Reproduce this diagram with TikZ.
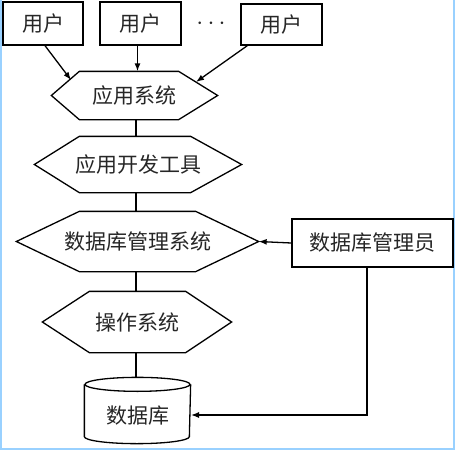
\documentclass[tikz,border=0pt]{standalone}
\usepackage{fontspec}
\setmainfont{Noto Sans CJK SC}
\usetikzlibrary{arrows.meta,calc}
\begin{document}
\begin{tikzpicture}[x=1pt,y=-1pt,
  line width=1.3pt,
  every node/.style={font=\fontsize{21}{23}\selectfont, text=black!85},
  boxnode/.style={draw, rectangle, inner sep=0pt},
  hexnode/.style={draw=none, rectangle, inner sep=0pt},
  arr/.style={-{Latex[length=8pt,width=6pt]}},
  frameline/.style={draw=blue!45!cyan!40, line width=2.5pt}]
\useasboundingbox (0,0) rectangle (455,450);
\draw[frameline] (1,-2) -- (1,449) -- (454,449) -- (454,-2);

% users
\node[boxnode, minimum width=80pt, minimum height=43pt] (u1) at (43,23.5) {用户};
\node[boxnode, minimum width=81pt, minimum height=43pt] (u2) at (140.5,23.5) {用户};
\node[font=\fontsize{24}{26}\selectfont] (dots) at (211,24) {$\cdots$};
\node[boxnode, minimum width=81pt, minimum height=41pt] (u3) at (281.5,24.5) {用户};

% hexagon 1
\node[hexnode, minimum width=165pt, minimum height=47pt] (h1) at (134.5,95.5) {应用系统};
\draw (h1.west) -- ([xshift=28pt]h1.north west) -- ([xshift=-39pt]h1.north east) -- (h1.east)
  -- ([xshift=-39pt]h1.south east) -- ([xshift=28pt]h1.south west) -- cycle;

% hexagon 2
\node[hexnode, minimum width=206pt, minimum height=55pt] (h2) at (138,164.5) {应用开发工具};
\draw (h2.west) -- ([xshift=45pt]h2.north west) -- ([xshift=-51pt]h2.north east) -- (h2.east)
  -- ([xshift=-51pt]h2.south east) -- ([xshift=45pt]h2.south west) -- cycle;

% hexagon 3
\node[hexnode, minimum width=241pt, minimum height=59pt] (h3) at (137.5,241.5) {数据库管理系统};
\draw (h3.west) -- ([xshift=63pt]h3.north west) -- ([xshift=-63pt]h3.north east) -- (h3.east)
  -- ([xshift=-63pt]h3.south east) -- ([xshift=63pt]h3.south west) -- cycle;

% hexagon 4
\node[hexnode, minimum width=188pt, minimum height=60pt] (h4) at (137,322) {操作系统};
\draw (h4.west) -- ([xshift=47pt]h4.north west) -- ([xshift=-46pt]h4.north east) -- (h4.east)
  -- ([xshift=-46pt]h4.south east) -- ([xshift=47pt]h4.south west) -- cycle;

% DBA
\node[boxnode, minimum width=161pt, minimum height=48pt] (dba) at (372.5,243) {数据库管理员};

% database cylinder
\node[hexnode, minimum width=105pt, minimum height=65pt] (db) at (137.5,410.5) {};
\node (dbt) at (137.5,416) {数据库};
\draw ([yshift=-7pt]db.north west) -- ([yshift=7pt]db.south west)
  arc[start angle=180, end angle=360, x radius=52.5pt, y radius=7pt]
  -- ([yshift=-7pt]db.north east);
\draw ($(db.north)+(0,7)$) ellipse[x radius=52.5pt, y radius=7pt];

% connectors
\coordinate (a1) at (71,80);
\coordinate (a3) at (196,82);
\coordinate (dbin) at (191,415);
\draw[arr] ([xshift=2pt]u1.south) -- (a1);
\draw[arr] ([xshift=-3pt]u2.south) -- ([xshift=-3pt]u2.south |- h1.north);
\draw[arr] ([xshift=7pt]u3.south west) -- (a3);
\draw ([xshift=1.5pt]h1.south) -- ([xshift=1.5pt]h1.south |- h2.north);
\draw ([xshift=-2pt]h2.south) -- ([xshift=-2pt]h2.south |- h3.north);
\draw ([xshift=-1.5pt]h3.south) -- ([xshift=-1.5pt]h3.south |- h4.north);
\draw ([xshift=-1pt]h4.south) -- ([xshift=-1pt]h4.south |- db.north);
\draw[arr] (dba.west) -- (h3.east);
\draw[arr] ([xshift=-5.5pt]dba.south) |- (dbin);
\end{tikzpicture}
\end{document}
